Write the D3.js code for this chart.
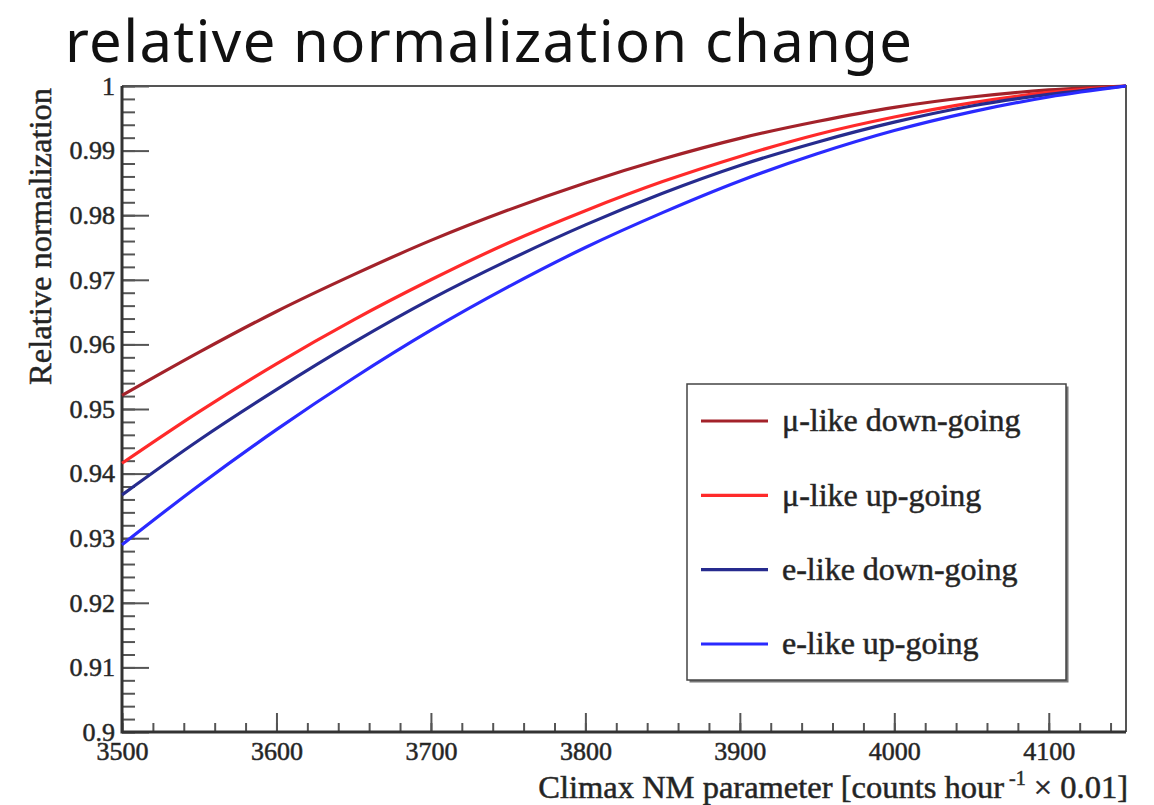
<!DOCTYPE html>
<html>
<head>
<meta charset="utf-8">
<script src="https://cdn.jsdelivr.net/npm/d3@7"></script>
<style>
  html, body { margin: 0; padding: 0; background: #fff; }
  svg { display: block; }
  .serif { font-family: "Liberation Serif", "Times New Roman", serif; fill: #222; stroke: #333; stroke-width: 0.55px; }
</style>
</head>
<body>
<svg id="chart" width="1154" height="805"></svg>
<script>
// Climax neutron-monitor parameter (counts/hour x 0.01)
const nmParam = [3500, 3550, 3600, 3650, 3700, 3750, 3800, 3850, 3900, 3950, 4000, 4050, 4100, 4150];

// Relative flux normalization per sample, normalized to 1 at solar minimum
const muLikeDown = [0.9521, 0.9588, 0.9651, 0.9708, 0.9761, 0.9808, 0.9850, 0.9887, 0.9919, 0.9945, 0.9967, 0.9983, 0.9994, 1.0];
const muLikeUp   = [0.9416, 0.9496, 0.9570, 0.9638, 0.9700, 0.9757, 0.9807, 0.9852, 0.9891, 0.9925, 0.9952, 0.9974, 0.9990, 1.0];
const eLikeDown  = [0.9367, 0.9452, 0.9530, 0.9603, 0.9670, 0.9730, 0.9785, 0.9834, 0.9877, 0.9913, 0.9944, 0.9969, 0.9987, 1.0];
const eLikeUp    = [0.9290, 0.9382, 0.9468, 0.9548, 0.9622, 0.9689, 0.9750, 0.9804, 0.9853, 0.9895, 0.9931, 0.9960, 0.9983, 1.0];

const seriesNames  = ["μ-like down-going", "μ-like up-going", "e-like down-going", "e-like up-going"];
const seriesValues = [muLikeDown, muLikeUp, eLikeDown, eLikeUp];
const seriesColors = ["#a3222a", "#ff2a2a", "#262b8e", "#2a2aff"];

const xMajorTicks = [3500, 3600, 3700, 3800, 3900, 4000, 4100];
const xMinorTicks = d3.range(3500, 4150, 20);
const yMajorTicks = [0.9, 0.91, 0.92, 0.93, 0.94, 0.95, 0.96, 0.97, 0.98, 0.99, 1];
const yMinorTicks = d3.range(0, 51).map(i => 0.9 + i * 0.002);

const svg = d3.select("#chart");

// plot frame
const L = 122, R = 1126, T = 86, B = 732;
const x = d3.scaleLinear().domain([3500, 4150]).range([L, R]);
const y = d3.scaleLinear().domain([0.9, 1]).range([B, T]);

// title
svg.append("text")
  .attr("x", 65).attr("y", 62)
  .attr("textLength", 847).attr("lengthAdjust", "spacing")
  .style("font-family", "'Noto Sans', 'Liberation Sans', sans-serif")
  .style("font-size", "58px")
  .style("fill", "#111")
  .text("relative normalization change");

// top and right borders
svg.append("path")
  .attr("d", `M${L},${T}H${R}V${B}`)
  .attr("fill", "none").attr("stroke", "#555").attr("stroke-width", 2);

// y axis: minor then major ticks, drawn pointing into the frame
const yMinorAxis = svg.append("g").attr("transform", `translate(${L},0)`)
  .call(d3.axisLeft(y).tickValues(yMinorTicks).tickSize(-13).tickFormat(""));
const yAxis = svg.append("g").attr("transform", `translate(${L},0)`)
  .call(d3.axisLeft(y).tickValues(yMajorTicks).tickSize(-27).tickPadding(7)
    .tickFormat(d => String(+d.toFixed(2))));

// x axis
const xMinorAxis = svg.append("g").attr("transform", `translate(0,${B})`)
  .call(d3.axisBottom(x).tickValues(xMinorTicks).tickSize(-9).tickFormat(""));
const xAxis = svg.append("g").attr("transform", `translate(0,${B})`)
  .call(d3.axisBottom(x).tickValues(xMajorTicks).tickSize(-19).tickPadding(10)
    .tickFormat(d3.format("d")));

[yMinorAxis, yAxis, xMinorAxis, xAxis].forEach(g => {
  g.select(".domain").remove();
  g.selectAll(".tick line").attr("stroke", "#555").attr("stroke-width", 2);
  g.selectAll(".tick text")
    .attr("class", "serif")
    .style("font-size", "26px");
});

// left and bottom axis lines
svg.append("path")
  .attr("d", `M${L},${T}V${B}H${R}`)
  .attr("fill", "none").attr("stroke", "#333").attr("stroke-width", 3);

// curves
const line = d3.line()
  .x((d, i) => x(nmParam[i]))
  .y(d => y(d))
  .curve(d3.curveMonotoneX);

svg.append("g").selectAll("path")
  .data(seriesValues)
  .join("path")
  .attr("d", line)
  .attr("fill", "none")
  .attr("stroke", (d, i) => seriesColors[i])
  .attr("stroke-width", 3.2)
  .attr("stroke-linejoin", "round");

// axis titles
svg.append("text")
  .attr("class", "serif")
  .attr("transform", `translate(51,${T + 2}) rotate(-90)`)
  .attr("text-anchor", "end")
  .style("font-size", "32.5px")
  .text("Relative normalization");

const xTitle = svg.append("text")
  .attr("class", "serif")
  .attr("x", 1128).attr("y", 798)
  .attr("text-anchor", "end")
  .style("font-size", "32.5px");
xTitle.append("tspan").text("Climax NM parameter [counts hour");
xTitle.append("tspan").attr("dy", -13).style("font-size", "20px").text(" -1");
xTitle.append("tspan").attr("dy", 13).text(" × 0.01]");

// legend
const lg = { x0: 687, y0: 384, x1: 1066, y1: 680 };
svg.append("rect")
  .attr("x", lg.x0 + 2.5).attr("y", lg.y0 + 2.5)
  .attr("width", lg.x1 - lg.x0).attr("height", lg.y1 - lg.y0)
  .attr("fill", "#777");
svg.append("rect")
  .attr("x", lg.x0).attr("y", lg.y0)
  .attr("width", lg.x1 - lg.x0).attr("height", lg.y1 - lg.y0)
  .attr("fill", "#fff").attr("stroke", "#444").attr("stroke-width", 1.5);

const legendY = d3.scalePoint().domain(seriesNames).range([421, 644]);
const items = svg.append("g").selectAll("g")
  .data(seriesNames)
  .join("g")
  .attr("transform", d => `translate(0,${legendY(d)})`);
items.append("line")
  .attr("x1", 701).attr("x2", 768)
  .attr("stroke", (d, i) => seriesColors[i])
  .attr("stroke-width", 3.2);
items.append("text")
  .attr("class", "serif")
  .attr("x", 782).attr("dy", "0.32em")
  .style("font-size", "32px")
  .text(d => d);
</script>
</body>
</html>
